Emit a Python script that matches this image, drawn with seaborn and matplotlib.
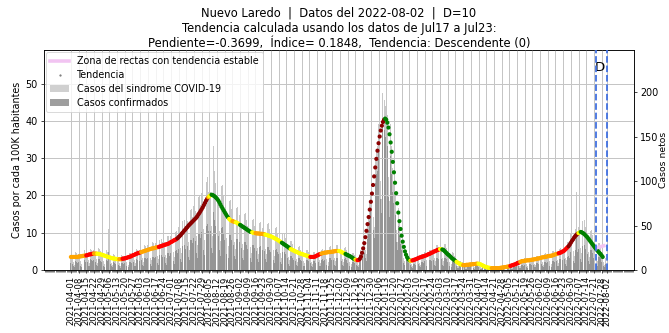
import matplotlib
matplotlib.use("Agg")
import matplotlib.pyplot as plt
import seaborn as sns
import pandas as pd
import numpy as np
from matplotlib.lines import Line2D
from matplotlib.patches import Patch
from matplotlib.ticker import FixedLocator, MultipleLocator

# ---------------- data ----------------
municipio = "Nuevo Laredo"
fecha_inicio = "2021-04-01"
fecha_datos = "2022-08-02"
D = 10
pendiente = -0.3699
indice = 0.1848
tendencia_txt = "Descendente (0)"
periodo_ini, periodo_fin = "Jul17", "Jul23"

# daily net cases (casos netos), one value per day from 2021-04-01
casos_sindrome = [
    17, 16, 9, 6, 20, 19, 17,
    18, 17, 10, 7, 21, 22, 18,
    21, 18, 11, 8, 24, 23, 20,
    22, 19, 12, 8, 25, 24, 21,
    18, 17, 10, 7, 22, 20, 46,
    16, 14, 8, 6, 18, 17, 15,
    14, 13, 8, 5, 17, 16, 14,
    16, 15, 9, 6, 19, 19, 17,
    21, 19, 11, 8, 24, 23, 21,
    24, 22, 13, 9, 28, 27, 24,
    28, 25, 14, 11, 31, 30, 27,
    30, 28, 16, 12, 34, 35, 31,
    33, 31, 17, 13, 38, 38, 33,
    38, 35, 20, 15, 43, 44, 39,
    48, 44, 25, 19, 55, 56, 49,
    60, 55, 31, 23, 68, 69, 60,
    72, 66, 38, 28, 82, 84, 73,
    87, 80, 46, 34, 99, 105, 88,
    97, 88, 50, 38, 140, 112, 98,
    84, 77, 44, 33, 95, 96, 84,
    69, 63, 36, 27, 78, 79, 69,
    62, 57, 32, 24, 70, 71, 62,
    110, 51, 29, 22, 63, 64, 56,
    49, 45, 26, 19, 56, 57, 50,
    47, 43, 25, 18, 53, 54, 47,
    46, 42, 24, 18, 52, 53, 46,
    41, 38, 22, 16, 47, 48, 41,
    36, 33, 19, 14, 40, 41, 36,
    29, 26, 15, 11, 33, 33, 29,
    23, 21, 12, 9, 26, 27, 23,
    20, 18, 10, 8, 22, 22, 20,
    17, 16, 9, 7, 20, 20, 17,
    21, 19, 11, 8, 23, 24, 21,
    23, 21, 12, 9, 26, 27, 23,
    25, 22, 13, 10, 28, 28, 25,
    22, 20, 12, 9, 25, 26, 22,
    17, 15, 9, 7, 19, 19, 17,
    14, 13, 8, 6, 18, 22, 24,
    28, 32, 22, 18, 52, 62, 75,
    85, 95, 60, 48, 125, 135, 140,
    165, 160, 100, 80, 199, 192, 185,
    190, 175, 105, 78, 165, 140, 115,
    100, 85, 45, 32, 70, 55, 42,
    34, 27, 14, 10, 20, 17, 14,
    14, 12, 7, 5, 14, 14, 13,
    16, 15, 8, 6, 18, 18, 16,
    20, 19, 11, 8, 23, 23, 20,
    25, 23, 13, 10, 28, 28, 25,
    26, 24, 13, 10, 29, 29, 25,
    18, 16, 9, 7, 20, 19, 16,
    10, 9, 5, 4, 10, 10, 9,
    7, 6, 3, 3, 7, 8, 6,
    8, 7, 4, 3, 9, 9, 8,
    7, 6, 3, 2, 7, 7, 6,
    3, 3, 2, 1, 3, 3, 3,
    3, 2, 1, 1, 3, 3, 2,
    4, 3, 2, 1, 4, 5, 4,
    6, 6, 3, 2, 7, 7, 6,
    10, 9, 5, 4, 12, 12, 10,
    13, 12, 7, 5, 14, 14, 12,
    14, 13, 7, 6, 16, 16, 14,
    16, 15, 9, 6, 18, 19, 16,
    18, 17, 10, 7, 21, 21, 18,
    22, 20, 11, 8, 24, 25, 22,
    28, 25, 14, 11, 31, 32, 28,
    40, 37, 21, 16, 46, 88, 40,
    48, 44, 25, 19, 55, 56, 48,
    39, 36, 20, 15, 44, 45, 39,
    26, 24, 14, 10, 30, 30, 26,
    18, 16, 9, 6, 14, 8,
]

casos_confirmados = [
    8, 7, 4, 3, 10, 9, 8,
    9, 8, 5, 3, 10, 11, 9,
    10, 9, 5, 4, 12, 11, 10,
    11, 9, 6, 4, 12, 12, 10,
    9, 8, 5, 3, 11, 10, 20,
    8, 7, 4, 3, 9, 8, 7,
    7, 6, 4, 2, 8, 8, 7,
    8, 7, 4, 3, 9, 9, 8,
    10, 9, 5, 4, 12, 11, 10,
    12, 11, 6, 4, 14, 13, 12,
    14, 12, 7, 5, 15, 15, 13,
    15, 14, 8, 6, 17, 17, 15,
    16, 15, 8, 6, 19, 19, 16,
    19, 17, 10, 7, 21, 22, 19,
    24, 22, 12, 9, 27, 28, 24,
    30, 27, 15, 11, 34, 34, 30,
    36, 33, 19, 14, 41, 42, 36,
    43, 40, 23, 17, 49, 52, 44,
    48, 44, 25, 19, 65, 56, 49,
    42, 38, 22, 16, 47, 48, 42,
    34, 31, 18, 13, 39, 39, 34,
    31, 28, 16, 12, 35, 35, 31,
    50, 25, 14, 11, 31, 32, 28,
    24, 22, 13, 9, 28, 28, 25,
    23, 21, 12, 9, 26, 27, 23,
    23, 21, 12, 9, 26, 26, 23,
    20, 19, 11, 8, 23, 24, 20,
    18, 16, 9, 7, 20, 20, 18,
    14, 13, 7, 5, 16, 16, 14,
    11, 10, 6, 4, 13, 13, 11,
    10, 9, 5, 4, 11, 11, 10,
    8, 8, 4, 3, 10, 10, 8,
    10, 9, 5, 4, 11, 12, 10,
    11, 10, 6, 4, 13, 13, 11,
    12, 11, 6, 5, 14, 14, 12,
    11, 10, 6, 4, 12, 13, 11,
    8, 7, 4, 3, 9, 9, 8,
    7, 6, 4, 3, 9, 11, 13,
    16, 19, 13, 10, 35, 44, 55,
    65, 72, 45, 36, 98, 108, 112,
    135, 130, 80, 64, 165, 158, 150,
    155, 140, 82, 60, 128, 108, 88,
    75, 62, 32, 22, 50, 38, 29,
    22, 17, 8, 6, 11, 9, 8,
    7, 6, 3, 2, 7, 7, 6,
    8, 7, 4, 3, 9, 9, 8,
    10, 9, 5, 4, 11, 11, 10,
    12, 11, 6, 5, 14, 14, 12,
    13, 12, 6, 5, 14, 14, 12,
    9, 8, 4, 3, 10, 9, 8,
    5, 4, 2, 2, 5, 5, 4,
    3, 3, 1, 1, 3, 4, 3,
    4, 3, 2, 1, 4, 4, 4,
    3, 3, 1, 1, 3, 3, 3,
    1, 1, 1, 0, 1, 1, 1,
    1, 1, 0, 0, 1, 1, 1,
    2, 1, 1, 0, 2, 2, 2,
    3, 3, 1, 1, 3, 3, 3,
    5, 4, 2, 2, 6, 6, 5,
    6, 6, 3, 2, 7, 7, 6,
    7, 6, 3, 3, 8, 8, 7,
    8, 7, 4, 3, 9, 9, 8,
    9, 8, 5, 3, 10, 10, 9,
    11, 10, 5, 4, 12, 12, 11,
    14, 12, 7, 5, 15, 16, 14,
    20, 18, 10, 8, 23, 40, 20,
    24, 22, 12, 9, 27, 28, 24,
    19, 18, 10, 7, 22, 22, 19,
    13, 12, 7, 5, 15, 15, 13,
    9, 8, 4, 3, 7, 4,
]

# smoothed trend, cases per 100K inhabitants, one value per day
tendencia = [
    3.5, 3.5, 3.5, 3.5, 3.5, 3.5, 3.5, 3.6, 3.6, 3.7,
    3.7, 3.8, 3.8, 3.9, 3.9, 4.0, 4.1, 4.2, 4.2, 4.3,
    4.4, 4.4, 4.4, 4.4, 4.4, 4.3, 4.3, 4.2, 4.1, 4.0,
    3.9, 3.8, 3.7, 3.6, 3.5, 3.4, 3.3, 3.2, 3.1, 3.1,
    3.0, 3.0, 2.9, 2.9, 2.9, 2.9, 2.9, 3.0, 3.1, 3.1,
    3.2, 3.3, 3.4, 3.5, 3.6, 3.7, 3.9, 4.0, 4.1, 4.3,
    4.4, 4.5, 4.6, 4.7, 4.8, 4.9, 5.0, 5.1, 5.2, 5.3,
    5.4, 5.5, 5.6, 5.7, 5.8, 5.8, 5.9, 6.0, 6.1, 6.1,
    6.2, 6.3, 6.4, 6.5, 6.6, 6.7, 6.8, 6.9, 7.0, 7.1,
    7.3, 7.5, 7.6, 7.8, 8.0, 8.1, 8.3, 8.5, 8.8, 9.1,
    9.4, 9.8, 10.1, 10.5, 10.8, 11.2, 11.5, 11.9, 12.2, 12.5,
    12.8, 13.1, 13.4, 13.7, 14.0, 14.4, 14.9, 15.3, 15.8, 16.3,
    16.8, 17.4, 18.0, 18.6, 19.1, 19.5, 19.8, 20.0, 20.2, 20.1,
    19.9, 19.7, 19.4, 19.1, 18.7, 18.2, 17.6, 17.0, 16.5, 16.0,
    15.5, 15.0, 14.5, 14.1, 13.7, 13.4, 13.2, 13.1, 13.0, 12.9,
    12.8, 12.7, 12.5, 12.3, 12.1, 11.9, 11.7, 11.5, 11.3, 11.1,
    10.9, 10.7, 10.5, 10.3, 10.2, 10.1, 10.0, 9.9, 9.9, 9.8,
    9.8, 9.8, 9.7, 9.7, 9.7, 9.6, 9.6, 9.5, 9.4, 9.3,
    9.2, 9.1, 9.0, 8.9, 8.7, 8.6, 8.4, 8.3, 8.1, 7.9,
    7.7, 7.5, 7.3, 7.1, 6.9, 6.7, 6.5, 6.3, 6.1, 5.8,
    5.6, 5.5, 5.3, 5.2, 5.0, 4.9, 4.8, 4.6, 4.5, 4.4,
    4.3, 4.2, 4.1, 4.0, 3.9, 3.8, 3.7, 3.6, 3.5, 3.5,
    3.5, 3.5, 3.6, 3.7, 3.9, 4.0, 4.2, 4.3, 4.4, 4.5,
    4.6, 4.6, 4.7, 4.7, 4.8, 4.8, 4.8, 4.9, 4.9, 5.0,
    5.0, 5.1, 5.1, 5.1, 5.1, 5.0, 4.9, 4.7, 4.6, 4.4,
    4.3, 4.1, 4.0, 3.8, 3.7, 3.5, 3.3, 3.1, 2.9, 2.8,
    2.7, 2.6, 2.7, 3.0, 3.6, 4.6, 5.8, 7.2, 8.8, 10.5,
    12.3, 14.2, 16.2, 18.3, 20.5, 22.8, 25.1, 27.5, 29.8, 32.0,
    34.0, 35.8, 37.4, 38.7, 39.7, 40.3, 40.6, 40.3, 39.5, 38.2,
    36.4, 34.2, 31.7, 29.0, 26.2, 23.4, 20.6, 17.9, 15.4, 13.1,
    11.0, 9.2, 7.6, 6.2, 5.0, 4.1, 3.4, 2.9, 2.6, 2.5,
    2.5, 2.6, 2.7, 2.8, 2.9, 3.0, 3.2, 3.3, 3.4, 3.5,
    3.6, 3.7, 3.8, 3.9, 4.0, 4.2, 4.3, 4.4, 4.6, 4.7,
    4.9, 5.0, 5.1, 5.3, 5.4, 5.5, 5.6, 5.6, 5.5, 5.4,
    5.1, 4.8, 4.5, 4.2, 4.0, 3.7, 3.4, 3.1, 2.9, 2.7,
    2.4, 2.2, 2.0, 1.8, 1.6, 1.5, 1.4, 1.3, 1.3, 1.3,
    1.4, 1.4, 1.4, 1.5, 1.5, 1.5, 1.6, 1.6, 1.6, 1.7,
    1.7, 1.7, 1.6, 1.5, 1.3, 1.2, 1.0, 0.9, 0.8, 0.7,
    0.6, 0.6, 0.5, 0.5, 0.5, 0.5, 0.5, 0.5, 0.5, 0.5,
    0.5, 0.6, 0.6, 0.7, 0.7, 0.8, 0.8, 0.9, 0.9, 1.0,
    1.1, 1.2, 1.3, 1.4, 1.5, 1.6, 1.8, 1.9, 2.0, 2.2,
    2.3, 2.4, 2.4, 2.5, 2.5, 2.6, 2.6, 2.6, 2.7, 2.7,
    2.8, 2.8, 2.9, 2.9, 3.0, 3.1, 3.1, 3.2, 3.3, 3.4,
    3.4, 3.5, 3.5, 3.6, 3.7, 3.7, 3.8, 3.8, 3.9, 4.0,
    4.1, 4.2, 4.3, 4.4, 4.5, 4.6, 4.7, 4.9, 5.0, 5.2,
    5.5, 5.8, 6.1, 6.4, 6.8, 7.3, 7.8, 8.2, 8.7, 9.1,
    9.4, 9.7, 9.9, 10.1, 10.2, 10.1, 9.9, 9.7, 9.4, 9.1,
    8.8, 8.4, 8.0, 7.6, 7.2, 6.8, 6.4, 6.0, 5.6, 5.3,
    4.9, 4.6, 4.3, 3.9, 3.5,
]

# trend category runs: first day of each run and its category
tramos_inicio = [0, 14, 21, 24, 44, 47, 64, 80, 97, 125, 126, 128, 144, 147, 150,
                 154, 165, 168, 177, 192, 200, 218, 228, 244, 250, 259, 260, 261,
                 263, 286, 309, 310, 311, 336, 338, 351, 357, 371, 383, 400, 409,
                 444, 453, 462, 464]
tramos_categoria = ["C", "B", "C", "D", "C", "B", "C", "B", "A", "C", "D", "E", "D", "C", "D",
                    "E", "D", "C", "D", "E", "D", "B", "C", "D", "E", "D", "C", "B",
                    "A", "E", "D", "C", "B", "D", "E", "D", "C", "D", "C", "B", "C",
                    "B", "A", "D", "E"]
colores_categoria = {"A": "#8b0000", "B": "#ff0000", "C": "#ffa500",
                     "D": "#ffff00", "E": "#008000"}

zona_estable_fechas = ["2022-07-24", "2022-07-30"]
zona_estable_valores = [6.0, 6.5]
lineas_d = ["2022-07-23", "2022-08-02"]
factor_netos = 4.2   # casos netos equivalentes a 1 caso por 100K hab.

# ---------------- tables ----------------
fechas = pd.date_range(fecha_inicio, periods=len(casos_sindrome), freq="D")
t0 = pd.Timestamp(fecha_inicio)
df_barras = pd.DataFrame({"dia": np.arange(len(casos_sindrome)),
                          "sindrome": casos_sindrome,
                          "confirmados": casos_confirmados})
cats = []
for i in range(len(tendencia)):
    k = max(j for j, s in enumerate(tramos_inicio) if s <= i)
    cats.append(tramos_categoria[k])
df_tend = pd.DataFrame({"dia": np.arange(len(tendencia)), "valor": tendencia, "cat": cats})
df_zona = pd.DataFrame({"dia": [(pd.Timestamp(f) - t0).days for f in zona_estable_fechas],
                        "valor": zona_estable_valores})

# ---------------- figure ----------------
plt.rcParams["font.size"] = 10.8
DPI = 64
fig = plt.figure(figsize=(669 / DPI, 333 / DPI), dpi=DPI)
ax = fig.add_axes([44 / 669, 1 - 270 / 333, 590 / 669, 220 / 333])
ax2 = ax.twinx()

sns.barplot(data=df_barras, x="dia", y="sindrome", native_scale=True, color="#c8c8c8",
            saturation=1, width=0.9, errorbar=None, linewidth=0, ax=ax2)
sns.barplot(data=df_barras, x="dia", y="confirmados", native_scale=True, color="#959595",
            saturation=1, width=0.9, errorbar=None, linewidth=0, ax=ax2)

ax.set_zorder(ax2.get_zorder() + 1)
ax.patch.set_visible(False)

sns.scatterplot(data=df_tend, x="dia", y="valor", hue="cat", palette=colores_categoria,
                s=22, linewidth=0, legend=False, ax=ax, zorder=3)
sns.lineplot(data=df_zona, x="dia", y="valor", color="#f2c4f2", lw=4, ax=ax, zorder=3)

for f in lineas_d:
    ax.axvline((pd.Timestamp(f) - t0).days, color="#3f6fe0", ls="--", lw=2, zorder=4)
ax.text(481.5, 54.2, "D", fontsize=15, ha="center", va="center")

# axes
ymax = 59
ax.set_xlim(-24.5, 512.5)
ax.set_ylim(0, ymax)
ax2.set_ylim(0, ymax * factor_netos)
ax.set_yticks(range(0, 51, 10))
ax2.set_yticks(range(0, 201, 50))

mayores = list(range(0, len(casos_sindrome) - 5, 7)) + [len(casos_sindrome) - 1]
ax.xaxis.set_major_locator(FixedLocator(mayores))
ax.set_xticklabels([fechas[d].strftime("%Y-%m-%d") for d in mayores], rotation=90,
                   fontsize=9.6)
ax.xaxis.set_minor_locator(MultipleLocator(1))
ax.tick_params(axis="x", which="minor", length=2)

ax.grid(True, which="major", color="#c4c4c4", lw=1.1)
ax.set_axisbelow(True)

ax.set_xlabel("")
ax.set_ylabel("Casos por cada 100K habitantes")
ax2.set_ylabel("Casos netos", fontsize=10.4, labelpad=1)
ax2.set_xlabel("")

ax.set_title(f"{municipio}  |  Datos del {fecha_datos}  |  D={D}\n"
             f"Tendencia calculada usando los datos de {periodo_ini} a {periodo_fin}:\n"
             f"Pendiente={pendiente:.4f},  Índice= {indice:.4f},  Tendencia: {tendencia_txt}",
             fontsize=13, pad=3)

handles = [
    Line2D([], [], color="#f2c4f2", lw=4),
    Line2D([], [], marker="o", color="gray", ls="none", markersize=1.5),
    Patch(facecolor="#d0d0d0"),
    Patch(facecolor="#9e9e9e"),
]
labels = ["Zona de rectas con tendencia estable", "Tendencia",
          "Casos del sindrome COVID-19", "Casos confirmados"]
ax.legend(handles, labels, loc="upper left", fontsize=10.8, borderaxespad=0.25,
          handlelength=2.0, labelspacing=0.4)

fig.savefig("out.png", dpi=DPI)
